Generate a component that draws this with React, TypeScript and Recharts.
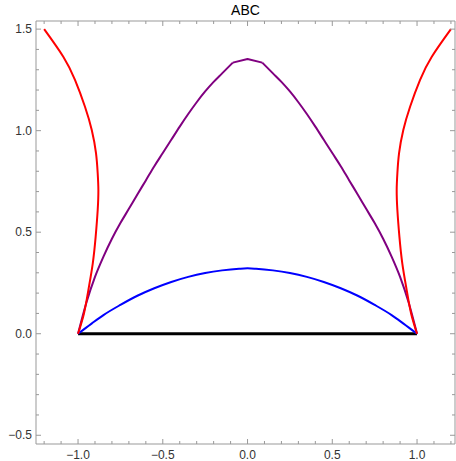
import { LineChart, Line, XAxis, YAxis } from 'recharts'

// curve samples (x, y pairs)
const redLeftX = [-1.2, -1.087, -1.018, -0.959, -0.919, -0.894, -0.884, -0.88, -0.884, -0.896, -0.913, -0.939, -0.965, -1.0]
const redLeftY = [1.5, 1.364, 1.25, 1.118, 1.003, 0.889, 0.79, 0.708, 0.609, 0.478, 0.347, 0.215, 0.1, 0.0]
const redRightX = [1.0, 0.965, 0.939, 0.913, 0.896, 0.884, 0.88, 0.884, 0.894, 0.919, 0.959, 1.018, 1.087, 1.2]
const redRightY = [0.0, 0.1, 0.215, 0.347, 0.478, 0.609, 0.708, 0.79, 0.889, 1.003, 1.118, 1.25, 1.364, 1.5]

// purple: smooth flanks joined by a short polyline cap at the peak
const purpleLeftX = [-1.0, -0.95, -0.9, -0.85, -0.8, -0.75, -0.7, -0.65, -0.6, -0.55, -0.5, -0.45, -0.4, -0.35, -0.3, -0.25, -0.2, -0.15, -0.087]
const purpleLeftY = [0.0, 0.155, 0.28, 0.38, 0.468, 0.545, 0.615, 0.686, 0.755, 0.825, 0.89, 0.955, 1.02, 1.082, 1.14, 1.193, 1.24, 1.282, 1.335]
const purpleTopX = [-0.087, 0.0, 0.087]
const purpleTopY = [1.335, 1.353, 1.335]
const purpleRightX = [0.087, 0.15, 0.2, 0.25, 0.3, 0.35, 0.4, 0.45, 0.5, 0.55, 0.6, 0.65, 0.7, 0.75, 0.8, 0.85, 0.9, 0.95, 1.0]
const purpleRightY = [1.335, 1.282, 1.24, 1.193, 1.14, 1.082, 1.02, 0.955, 0.89, 0.825, 0.755, 0.686, 0.615, 0.545, 0.468, 0.38, 0.28, 0.155, 0.0]

const blueX = [-1.0, -0.92, -0.85, -0.75, -0.65, -0.55, -0.45, -0.35, -0.25, -0.15, -0.05, 0.0, 0.05, 0.15, 0.25, 0.35, 0.45, 0.55, 0.65, 0.75, 0.85, 0.92, 1.0]
const blueY = [0.0, 0.05, 0.092, 0.142, 0.187, 0.224, 0.255, 0.28, 0.299, 0.312, 0.32, 0.322, 0.32, 0.312, 0.299, 0.28, 0.255, 0.224, 0.187, 0.142, 0.092, 0.05, 0.0]

const blackX = [-1.0, 1.0]
const blackY = [0.0, 0.0]

const xMajor = [-1, -0.5, 0, 0.5, 1]
const xTicks = [-1.2, -1.1, -1, -0.9, -0.8, -0.7, -0.6, -0.5, -0.4, -0.3, -0.2, -0.1, 0, 0.1, 0.2, 0.3, 0.4, 0.5, 0.6, 0.7, 0.8, 0.9, 1, 1.1, 1.2]
const yMajor = [-0.5, 0, 0.5, 1, 1.5]
const yTicks = [-0.5, -0.4, -0.3, -0.2, -0.1, 0, 0.1, 0.2, 0.3, 0.4, 0.5, 0.6, 0.7, 0.8, 0.9, 1, 1.1, 1.2, 1.3, 1.4, 1.5]

const zip = (xs: number[], ys: number[]) => xs.map((x, i) => ({ x, y: ys[i] }))

const FRAME = '#999'
const FONT = '"Liberation Sans", Arial, sans-serif'

const isMajor = (list: number[], v: number) => list.some(m => Math.abs(m - v) < 1e-6)
const fmt = (v: number) => (v < 0 ? '\u2212' : '') + Math.abs(v).toFixed(1)

function BottomTick({ x, y, payload }: any) {
  const major = isMajor(xMajor, payload.value)
  return (
    <g>
      <line x1={x} y1={y} x2={x} y2={y - (major ? 5 : 3)} stroke={FRAME} />
      {major && (
        <text x={x} y={y + 15} textAnchor="middle" fontSize={12} fontFamily={FONT} fill="#333">
          {fmt(payload.value)}
        </text>
      )}
    </g>
  )
}

function TopTick({ x, y, payload }: any) {
  const major = isMajor(xMajor, payload.value)
  return <line x1={x} y1={y} x2={x} y2={y + (major ? 5 : 3)} stroke={FRAME} />
}

function LeftTick({ x, y, payload }: any) {
  const major = isMajor(yMajor, payload.value)
  return (
    <g>
      <line x1={x} y1={y} x2={x + (major ? 5 : 3)} y2={y} stroke={FRAME} />
      {major && (
        <text x={x - 4} y={y + 4} textAnchor="end" fontSize={12} fontFamily={FONT} fill="#333">
          {fmt(payload.value)}
        </text>
      )}
    </g>
  )
}

function RightTick({ x, y, payload }: any) {
  const major = isMajor(yMajor, payload.value)
  return <line x1={x} y1={y} x2={x - (major ? 5 : 3)} y2={y} stroke={FRAME} />
}

export default function App() {
  const xDomain = [-1.248, 1.224]
  const yDomain = [-0.543, 1.54]
  const common = { dataKey: 'y', dot: false, isAnimationActive: false, strokeWidth: 2, strokeLinejoin: 'round' as const }
  return (
    <div style={{ position: 'absolute', left: 0, top: 0, width: 456, height: 461, background: '#fff' }}>
      <div
        style={{
          position: 'absolute', left: 36, width: 419, top: 2, textAlign: 'center',
          fontFamily: FONT, fontSize: 14, color: '#000',
        }}
      >
        ABC
      </div>
      <LineChart width={456} height={461} margin={{ top: 0, right: 0, left: 0, bottom: 0 }}>
        <XAxis
          dataKey="x"
          type="number"
          domain={xDomain}
          allowDataOverflow
          ticks={xTicks}
          interval={0}
          tickSize={0}
          tickMargin={0}
          height={17}
          stroke={FRAME}
          tick={<BottomTick />}
        />
        <XAxis
          xAxisId="top"
          orientation="top"
          dataKey="x"
          type="number"
          domain={xDomain}
          allowDataOverflow
          ticks={xTicks}
          interval={0}
          tickSize={0}
          tickMargin={0}
          height={21}
          stroke={FRAME}
          tick={<TopTick />}
        />
        <YAxis
          type="number"
          domain={yDomain}
          allowDataOverflow
          ticks={yTicks}
          interval={0}
          tickSize={0}
          tickMargin={0}
          width={36}
          stroke={FRAME}
          tick={<LeftTick />}
        />
        <YAxis
          yAxisId="right"
          orientation="right"
          type="number"
          domain={yDomain}
          allowDataOverflow
          ticks={yTicks}
          interval={0}
          tickSize={0}
          tickMargin={0}
          width={1}
          stroke={FRAME}
          tick={<RightTick />}
        />
        <Line {...common} data={zip(blackX, blackY)} type="linear" stroke="#000" strokeWidth={3} />
        <Line {...common} data={zip(blueX, blueY)} type="monotoneX" stroke="#0000ff" />
        <Line {...common} data={zip(purpleLeftX, purpleLeftY)} type="monotoneX" stroke="#800080" />
        <Line {...common} data={zip(purpleTopX, purpleTopY)} type="linear" stroke="#800080" />
        <Line {...common} data={zip(purpleRightX, purpleRightY)} type="monotoneX" stroke="#800080" />
        <Line {...common} data={zip(redLeftX, redLeftY)} type="natural" stroke="#ff0000" />
        <Line {...common} data={zip(redRightX, redRightY)} type="natural" stroke="#ff0000" />
      </LineChart>
    </div>
  )
}
